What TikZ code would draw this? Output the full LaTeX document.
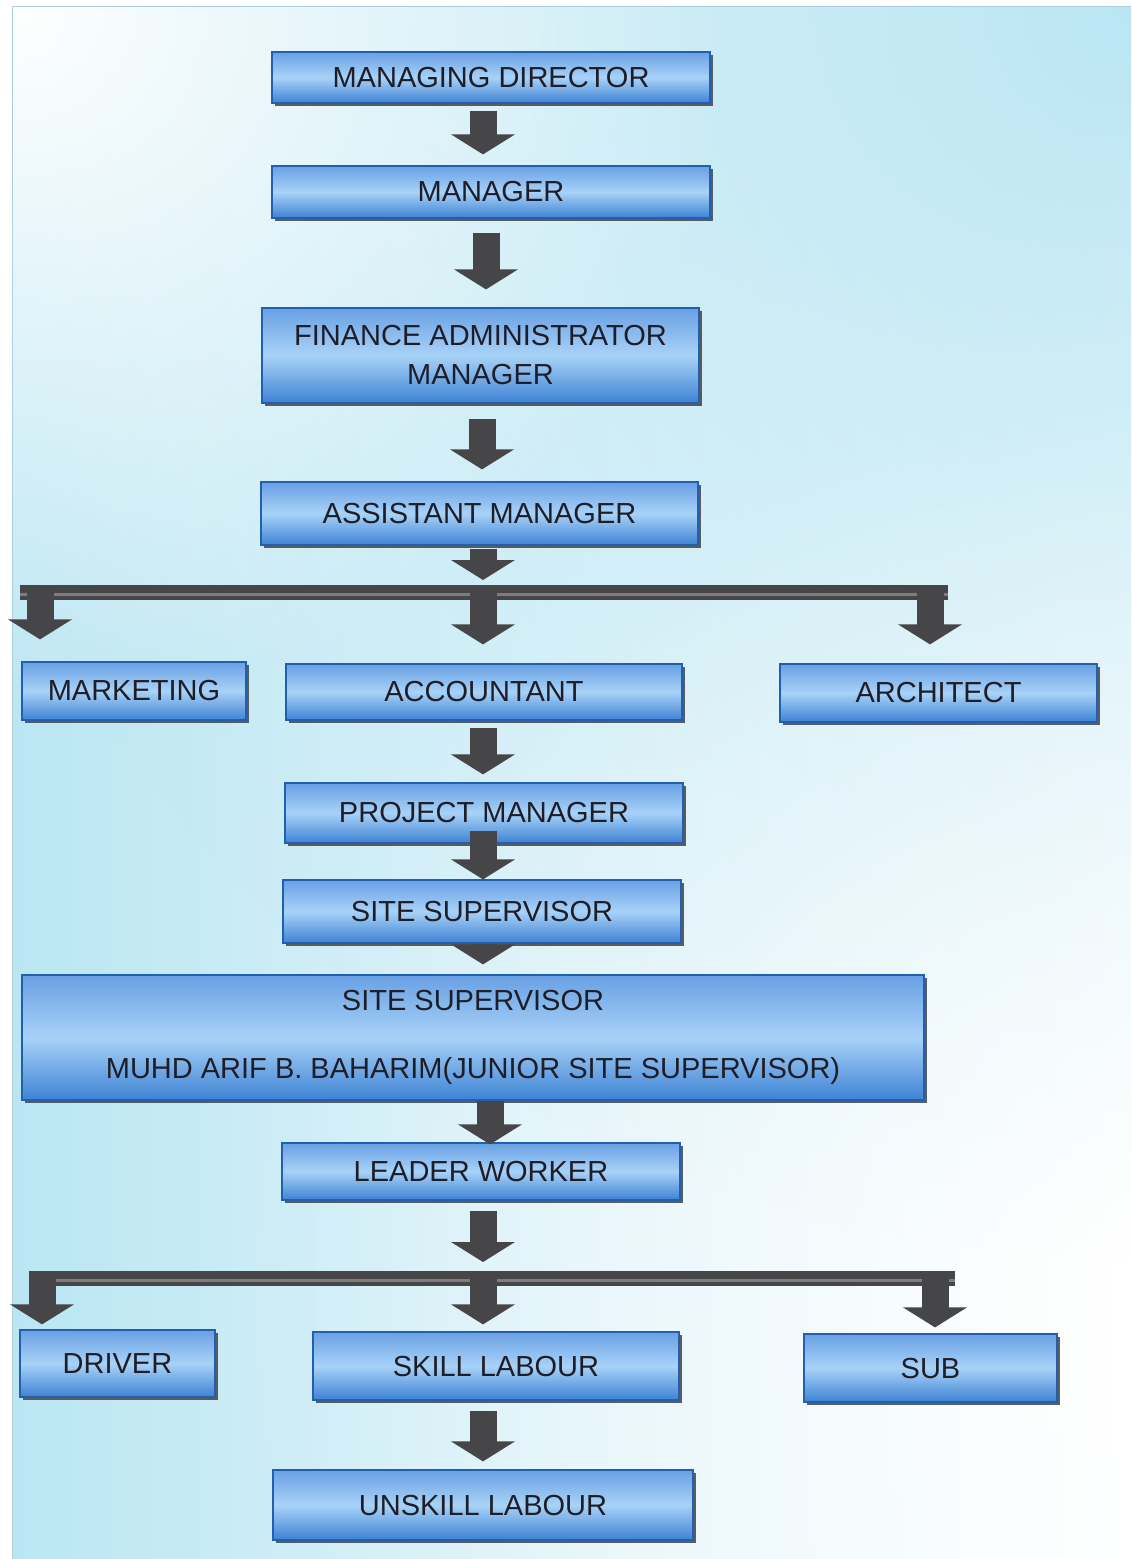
\documentclass[tikz,border=0pt]{standalone}
\usepackage{fontspec}
\setmainfont{Liberation Sans}
\usetikzlibrary{arrows.meta,shadows,calc,fadings}
\definecolor{bgc}{RGB}{186,230,243}
\definecolor{bgframe}{RGB}{170,208,222}
\definecolor{btop}{RGB}{105,160,228}
\definecolor{bmid}{RGB}{168,210,247}
\definecolor{bbot}{RGB}{62,130,212}
\definecolor{bline}{RGB}{35,95,175}
\definecolor{arr}{RGB}{70,70,72}
\definecolor{arrlight}{RGB}{125,125,128}
\definecolor{txt}{RGB}{30,30,40}
\tikzfading[name=softdisc, inner color=transparent!0, outer color=transparent!100]
\tikzset{
  orgbox/.style={draw=bline, line width=0.6pt, top color=btop, bottom color=bbot, middle color=bmid,
    inner sep=0pt, font=\fontsize{14.5}{17}\selectfont, text=txt, align=center,
    drop shadow={shadow xshift=1.6pt, shadow yshift=-1.6pt, fill=black!70, opacity=0.9}},
  barrow/.style={draw=arr, line width=13.5pt, -{Triangle[width=31.5pt,length=10pt]}},
  branchbar/.style={draw=arr, line width=7.5pt},
  barcore/.style={draw=arrlight, line width=1.5pt},
}
\begin{document}
\begin{tikzpicture}[x=0.5pt,y=-0.5pt]
\useasboundingbox (0,0) rectangle (1131,1559);
\fill[white] (0,0) rectangle (1131,1559);
\begin{scope}
\clip (12,6) rectangle (1131,1559);
\shade[left color=bgc, right color=white, middle color=bgc!45] (12,6) rectangle (1131,1559);
\fill[bgc, path fading=softdisc] (1131,6) circle (1250);
\fill[white, path fading=softdisc] (12,6) circle (720);
\fill[white, opacity=0.6, path fading=softdisc] (1131,1300) circle (900);
\end{scope}
\draw[bgframe, line width=0.5pt] (1131,6) -- (12,6) -- (12,1559);

% boxes
\node[orgbox, minimum width=219pt, minimum height=25.5pt] (md) at (491,77.5) {MANAGING DIRECTOR};
\node[orgbox, minimum width=219pt, minimum height=26pt] (mgr) at (491,192) {MANAGER};
\node[orgbox, minimum width=218.5pt, minimum height=47.5pt] (fin) at (480.5,355.5) {FINANCE ADMINISTRATOR\\[2.5pt]MANAGER};
\node[orgbox, minimum width=218.5pt, minimum height=31.5pt] (am) at (479.5,513.5) {ASSISTANT MANAGER};
\node[orgbox, minimum width=112pt, minimum height=29pt] (mkt) at (134,691) {MARKETING};
\node[orgbox, minimum width=198pt, minimum height=28pt] (acc) at (484,692) {ACCOUNTANT};
\node[orgbox, minimum width=158.5pt, minimum height=29pt] (arch) at (938.5,693) {ARCHITECT};
\node[orgbox, minimum width=199pt, minimum height=30pt] (pm) at (484,813) {PROJECT MANAGER};
\node[orgbox, minimum width=199pt, minimum height=31.5pt] (ss) at (482,911.5) {SITE SUPERVISOR};
\node[orgbox, minimum width=451pt, minimum height=62.5pt] (big) at (473,1037.5) {SITE SUPERVISOR\\[17pt]MUHD ARIF B. BAHARIM(JUNIOR SITE SUPERVISOR)};
\node[orgbox, minimum width=199pt, minimum height=28.5pt] (lw) at (481,1171.5) {LEADER WORKER};
\node[orgbox, minimum width=97.5pt, minimum height=33.5pt] (drv) at (117.5,1363.5) {DRIVER};
\node[orgbox, minimum width=183pt, minimum height=34pt] (sk) at (496,1366) {SKILL LABOUR};
\node[orgbox, minimum width=126.5pt, minimum height=34pt] (sub) at (930.5,1368) {SUB};
\node[orgbox, minimum width=210pt, minimum height=35pt] (unsk) at (483,1505) {UNSKILL LABOUR};

% column coordinates
\coordinate (c483) at (483,0);
\coordinate (c486) at (486,0);
\coordinate (c482) at (482,0);
\coordinate (c490) at (490,0);

% simple arrows
\draw[barrow, shorten <=3.5pt, shorten >=5.5pt] (md.south -| c483) -- (mgr.north -| c483);
\draw[barrow, shorten <=7pt, shorten >=9pt] (mgr.south -| c486) -- (fin.north -| c486);
\draw[barrow, shorten <=7.5pt, shorten >=6pt] (fin.south -| c482) -- (am.north -| c482);

% first branch
\coordinate (b1l) at (20,592);
\coordinate (b1r) at (948,592);
\coordinate (b1a) at (40,592);
\coordinate (b1b) at (483,592);
\coordinate (b1c) at (930,592);
\draw[branchbar] (b1l) -- (b1r);
\draw[barcore] ([yshift=-1pt]b1l) -- ([yshift=-1pt]b1r);
\draw[barrow, shorten <=1.5pt, shorten >=6pt] (am.south -| c483) -- (b1b);
\draw[barrow, shorten <=-3.5pt, shorten >=11pt] (b1a) -- (mkt.north -| b1a);
\draw[barrow, shorten <=-3.5pt, shorten >=9.5pt] (b1b) -- (acc.north -| b1b);
\draw[barrow, shorten <=-3.5pt, shorten >=9.5pt] (b1c) -- (arch.north -| b1c);

\draw[barrow, shorten <=3.5pt, shorten >=4pt] (acc.south -| c483) -- (pm.north -| c483);
\draw[barrow, shorten <=-6.5pt, shorten >=0pt] (pm.south -| c483) -- (ss.north -| c483);
\draw[barrow, shorten <=0pt, shorten >=5pt] (ss.south -| c483) -- (big.north -| c483);
\draw[barrow, shorten <=0pt, shorten >=-1pt] (big.south -| c490) -- (lw.north -| c490);

% second branch
\coordinate (b2l) at (30,1278);
\coordinate (b2r) at (955,1278);
\coordinate (b2a) at (42,1278);
\coordinate (b2b) at (483,1278);
\coordinate (b2c) at (935,1278);
\draw[branchbar] (b2l) -- (b2r);
\draw[barcore] ([yshift=-1pt]b2l) -- ([yshift=-1pt]b2r);
\draw[barrow, shorten <=5pt, shorten >=8pt] (lw.south -| c483) -- (b2b);
\draw[barrow, shorten <=-3.5pt, shorten >=2.5pt] (b2a) -- (drv.north -| b2a);
\draw[barrow, shorten <=-3.5pt, shorten >=3.5pt] (b2b) -- (sk.north -| b2b);
\draw[barrow, shorten <=-3.5pt, shorten >=3pt] (b2c) -- (sub.north -| b2c);

\draw[barrow, shorten <=5pt, shorten >=4pt] (sk.south -| c483) -- (unsk.north -| c483);
\end{tikzpicture}
\end{document}
